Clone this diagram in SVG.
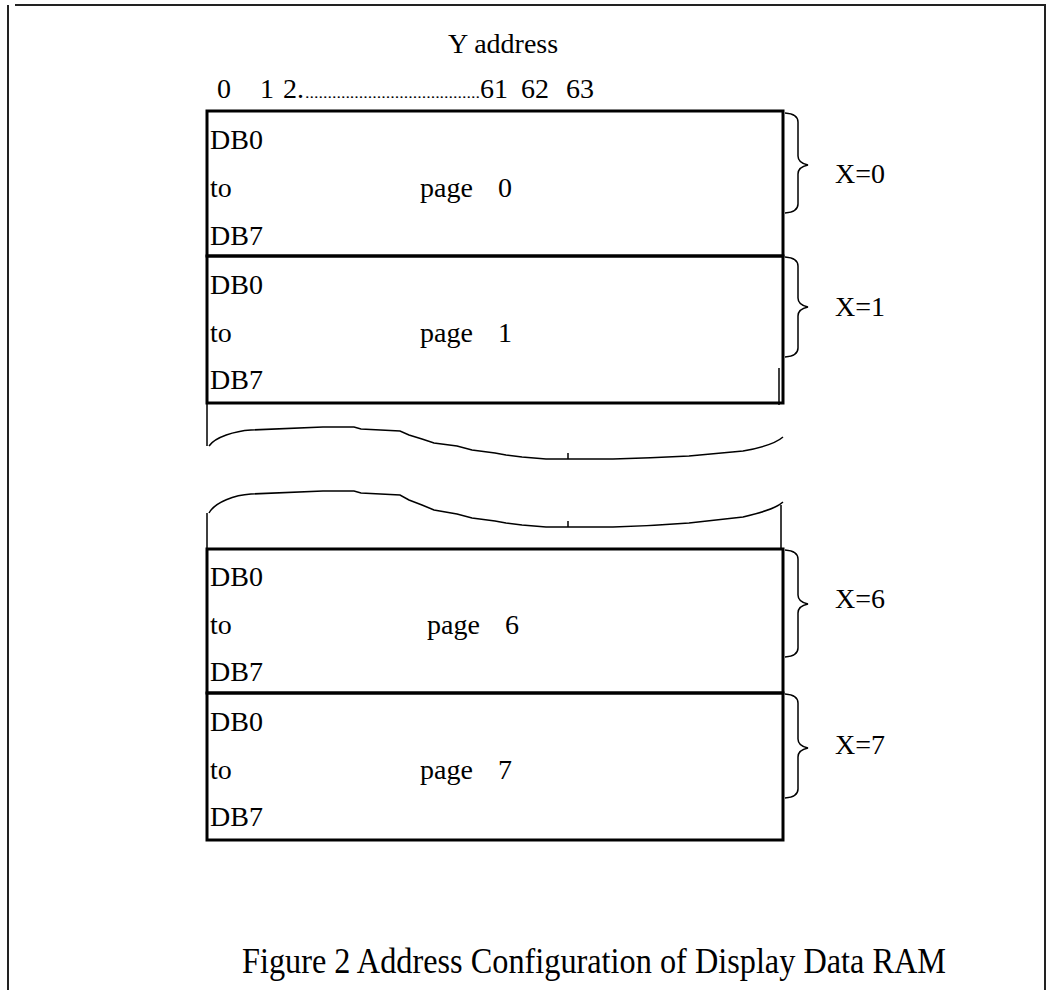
<svg xmlns="http://www.w3.org/2000/svg" width="1052" height="990" viewBox="0 0 1052 990">
<style>
text{font-family:"Liberation Serif","Times New Roman",serif;font-size:28px;fill:#000}
.box{fill:none;stroke:#000;stroke-width:3}
.thin{fill:none;stroke:#000;stroke-width:1.5}
.frame{fill:none;stroke:#222;stroke-width:2}
</style>
<rect width="1052" height="990" fill="#fff"/>
<g id="frame">
<path class="frame" d="M8 5V990M15 5H1045V990"/>
</g>
<g id="header">
<text x="448" y="53">Y address</text>
<text y="98"><tspan x="217">0</tspan><tspan x="260">1</tspan><tspan x="283">2.</tspan><tspan x="305" style="font-size:14px" textLength="175" lengthAdjust="spacingAndGlyphs">.......................................</tspan><tspan x="480">61</tspan><tspan x="521">62</tspan><tspan x="566">63</tspan></text>
</g>
<g id="page0">
<rect class="box" x="207" y="111" width="576" height="145"/>
<text x="210" y="149">DB0</text><text x="210" y="197">to</text><text x="210" y="245">DB7</text>
<text x="420" y="197">page<tspan x="498">0</tspan></text>
</g>
<g id="page1">
<rect class="box" x="207" y="256" width="576" height="147"/>
<path class="thin" d="M779 368V405"/>
<text x="210" y="294">DB0</text><text x="210" y="342">to</text><text x="210" y="389">DB7</text>
<text x="420" y="342">page<tspan x="498">1</tspan></text>
</g>
<g id="break">
<path class="thin" d="M207 403V446M209 446C215 437 235 431 251 430L323 427L354 427L361 429L400 431L409 435L422 439L434 443L457 446L472 450L495 453L506 455L522 457L546 459L613 459C650 458 689 456 689 456L743 451C760 448 775 444 783 437M568 453V459"/>
<path class="thin" d="M207 549V513M209 513C215 502 235 495 251 494L323 491L354 491L361 493L400 495L409 500L422 505L434 510L457 514L472 518L495 521L506 523L522 525L546 527L613 527C650 526 689 523 689 523L743 517C760 513 775 509 783 502M568 521V527M781 505V549"/>
</g>
<g id="page6">
<rect class="box" x="207" y="549" width="576" height="144"/>
<text x="210" y="586">DB0</text><text x="210" y="634">to</text><text x="210" y="681">DB7</text>
<text x="427" y="634">page<tspan x="505">6</tspan></text>
</g>
<g id="page7">
<rect class="box" x="207" y="693" width="576" height="147"/>
<text x="210" y="731">DB0</text><text x="210" y="779">to</text><text x="210" y="826">DB7</text>
<text x="420" y="779">page<tspan x="498">7</tspan></text>
</g>
<g id="braces">
<path class="thin" d="M785 113Q798 114 798 122V156Q798 163 808 165Q798 167 798 174V204Q798 212 785 213"/>
<path class="thin" d="M785 257Q798 258 798 266V298Q798 305 808 307Q798 309 798 316V348Q798 356 785 357"/>
<path class="thin" d="M785 550Q798 551 798 559V595Q798 602 808 604Q798 606 798 613V648Q798 656 785 657"/>
<path class="thin" d="M785 694Q798 695 798 703V739Q798 746 808 748Q798 750 798 757V789Q798 797 785 798"/>
<text x="835" y="183">X=0</text>
<text x="835" y="316">X=1</text>
<text x="835" y="608">X=6</text>
<text x="835" y="754">X=7</text>
</g>
<g id="caption">
<text x="242" y="973" style="font-size:36px" textLength="704" lengthAdjust="spacingAndGlyphs">Figure 2 Address Configuration of Display Data RAM</text>
</g>
</svg>
